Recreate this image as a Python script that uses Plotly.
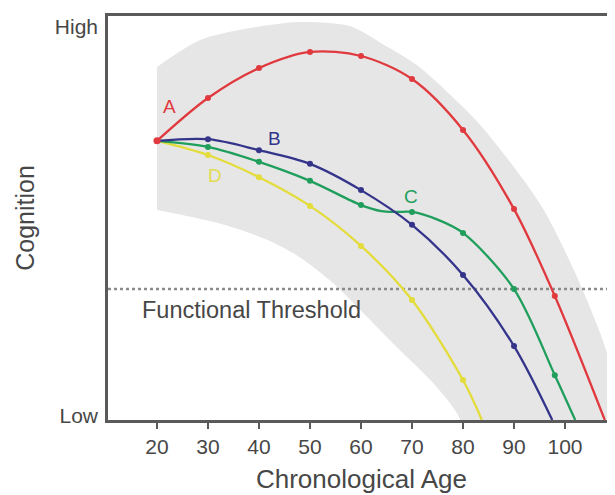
import plotly.graph_objects as go

# ---- data ----
X_TICKS = [20, 30, 40, 50, 60, 70, 80, 90, 100]
Y_TICK_VALS = [1.2, 97.3]
Y_TICK_TEXT = ["Low", "High"]
THRESHOLD = 32.4
MARKER_AGES = [30, 40, 50, 60, 70, 80, 90, 98]

band_upper_age = [20, 28.4, 38.2, 48.0, 57.8, 64.3, 71.0, 77.5, 83.9, 95.1, 101.6, 106.9, 110.5, 114.0]
band_upper_cog = [87.4, 94.0, 97.0, 98.5, 97.5, 93.0, 87.8, 80.5, 72.3, 53.5, 37.5, 21.5, 8.0, -5]
band_lower_age = [20, 31.8, 41.6, 48.0, 54.5, 61.2, 67.6, 74.1, 78.8, 81.0]
band_lower_cog = [52.0, 48.8, 44.6, 40.3, 33.9, 25.5, 17.3, 9.2, 1.7, -5]

A_age = [20, 30, 40, 50, 60, 70, 80, 90, 98, 107.8]
A_cog = [69.1, 79.7, 87.1, 91.1, 90.1, 84.4, 71.8, 52.2, 30.7, 0]
B_age = [20, 30, 40, 50, 60, 70, 80, 90, 97.5]
B_cog = [69.1, 69.5, 66.8, 63.4, 56.9, 48.3, 35.9, 18.3, 0]
C_age = [20, 30, 40, 50, 60, 64, 67, 70, 75, 80, 90, 98, 102]
C_cog = [69.1, 67.6, 63.9, 59.2, 53.2, 51.7, 51.5, 51.5, 49.6, 46.3, 32.4, 11.1, 0]
D_age = [20, 30, 40, 50, 60, 70, 80, 83.7]
D_cog = [69.1, 65.6, 60.1, 53.0, 43.1, 29.7, 9.9, 0]

series = [
    ("A", A_age, A_cog, "#e0393e", (22.5, 77.5), "#e0393e"),
    ("B", B_age, B_cog, "#34348a", (43.1, 69.6), "#34348a"),
    ("C", C_age, C_cog, "#1f9e5c", (69.8, 55.2), "#1f9e5c"),
    ("D", D_age, D_cog, "#e3dc3a", (31.4, 60.6), "#e3dc50"),
]

fig = go.Figure()

# gray band: lower edge, then upper edge filled to it
fig.add_trace(go.Scatter(
    x=band_lower_age, y=band_lower_cog, mode="lines",
    line=dict(width=0, shape="spline", smoothing=0.8),
    hoverinfo="skip", showlegend=False))
fig.add_trace(go.Scatter(
    x=band_upper_age, y=band_upper_cog, mode="lines",
    line=dict(width=0, shape="spline", smoothing=0.8),
    fill="tonexty", fillcolor="#e6e6e7", hoverinfo="skip", showlegend=False))

# threshold
fig.add_trace(go.Scatter(
    x=[10.4, 109.8], y=[THRESHOLD, THRESHOLD], mode="lines",
    line=dict(color="#8a8a8a", width=2.5, dash="dot"),
    hoverinfo="skip", showlegend=False))

# draw D, C, B, A order so red is on top
for name, ages, cogs, col, lab, labcol in reversed(series):
    fig.add_trace(go.Scatter(
        x=ages, y=cogs, mode="lines",
        line=dict(color=col, width=2.3, shape="spline", smoothing=0.9),
        showlegend=False, hoverinfo="skip"))
    mx = [a for a in ages if a in MARKER_AGES]
    my = [c for a, c in zip(ages, cogs) if a in MARKER_AGES]
    fig.add_trace(go.Scatter(
        x=mx, y=my, mode="markers",
        marker=dict(color=col, size=6, line=dict(width=0)),
        showlegend=False))
    fig.add_annotation(x=lab[0], y=lab[1], text=name, showarrow=False,
                       font=dict(size=19, color=labcol,
                                 family="Liberation Sans, Arial, sans-serif"))

# shared start point
fig.add_trace(go.Scatter(x=[A_age[0]], y=[A_cog[0]], mode="markers",
                         marker=dict(color="#e0393e", size=7), showlegend=False))

fig.add_annotation(x=38.6, y=27.2, text="Functional Threshold", showarrow=False,
                   font=dict(size=23.5, color="#474747",
                             family="Liberation Sans, Arial, sans-serif"))

fig.update_layout(
    width=615, height=495,
    margin=dict(l=100, r=8, t=8, b=83),
    paper_bgcolor="white", plot_bgcolor="white",
    font=dict(family="Liberation Sans, Arial, sans-serif", color="#474747"),
    xaxis=dict(range=[10.4, 109.8], tickvals=X_TICKS, showgrid=False,
               zeroline=False, showline=True, mirror=True, automargin=False,
               linecolor="#5a5a5a", linewidth=2.5,
               ticks="outside", ticklen=6, tickwidth=2, tickcolor="#5a5a5a",
               tickfont=dict(size=21, color="#474747"),
               ticklabelstandoff=0,
               title=dict(text="Chronological Age", font=dict(size=26, color="#474747"),
                          standoff=13)),
    yaxis=dict(range=[0, 100], tickvals=Y_TICK_VALS, ticktext=Y_TICK_TEXT,
               showgrid=False, zeroline=False, showline=True, mirror=False,
               automargin=False,
               linecolor="#5a5a5a", linewidth=2.5, ticks="",
               tickfont=dict(size=21, color="#474747"),
               ticklabelstandoff=3,
               title=dict(text="Cognition", font=dict(size=25, color="#474747"),
                          standoff=14)),
)

fig.write_html("out.html")
